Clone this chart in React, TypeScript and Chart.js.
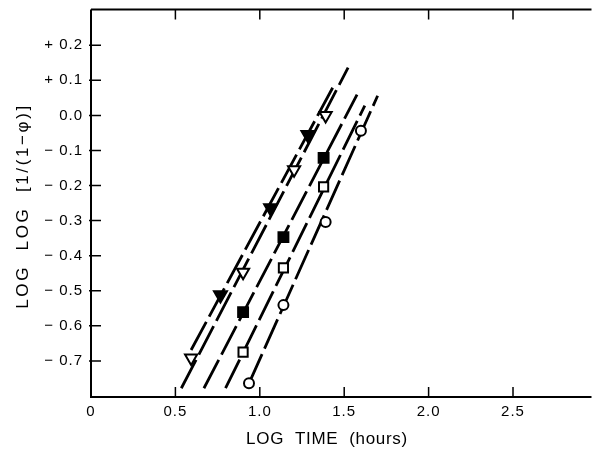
import React, { useEffect, useRef } from 'react';
import { Chart, registerables } from 'chart.js';

Chart.register(...registerables);

// ---- axis ticks ----
const xTickValues = [0, 0.5, 1.0, 1.5, 2.0, 2.5];
const xTickLabels = ['0', '0.5', '1.0', '1.5', '2.0', '2.5'];
const yTickValues = [-0.7, -0.6, -0.5, -0.4, -0.3, -0.2, -0.1, 0.0, 0.1, 0.2];
const yTickLabels = ['\u2212 0.7', '\u2212 0.6', '\u2212 0.5', '\u2212 0.4', '\u2212 0.3', '\u2212 0.2', '\u2212 0.1', '0.0', '+ 0.1', '+ 0.2'];

// ---- data points ----
const openTriX = [0.593, 0.901, 1.203, 1.39];
const openTriY = [-0.692, -0.447, -0.155, 0.0];
const fillTriX = [0.767, 1.064, 1.285];
const fillTriY = [-0.512, -0.264, -0.055];
const fillSqX = [0.901, 1.14, 1.378];
const fillSqY = [-0.561, -0.347, -0.121];
const openSqX = [0.901, 1.14, 1.378];
const openSqY = [-0.675, -0.435, -0.204];
const circX = [0.936, 1.14, 1.39, 1.599];
const circY = [-0.764, -0.541, -0.304, -0.044];

// ---- fitted lines (end points) ----
const lineOpenTriX = [0.535, 1.523];
const lineOpenTriY = [-0.778, 0.136];
const lineFillTriX = [0.593, 1.442];
const lineFillTriY = [-0.669, 0.088];
const lineFillSqX = [0.669, 1.576];
const lineFillSqY = [-0.778, 0.059];
const lineOpenSqX = [0.797, 1.622];
const lineOpenSqY = [-0.778, 0.028];
const lineCircX = [0.936, 1.698];
const lineCircY = [-0.764, 0.056];

const FONT = "'Liberation Sans', Arial, sans-serif";

const zip = (xs: number[], ys: number[]) => xs.map((x, i) => ({ x, y: ys[i] }));

const axesPlugin = {
  id: 'axesPlugin',
  beforeDraw(chart: any) {
    (chart.ctx as any).letterSpacing = '1px';
  },
  beforeDatasetsDraw(chart: any) {
    const { ctx, chartArea } = chart;
    const xs = chart.scales.x;
    const ys = chart.scales.y;
    const { left, right, top, bottom } = chartArea;
    ctx.save();
    ctx.strokeStyle = '#000';
    ctx.lineWidth = 2;
    ctx.beginPath();
    ctx.moveTo(left, top);
    ctx.lineTo(left, bottom);
    ctx.lineTo(right, bottom);
    ctx.moveTo(left, top);
    ctx.lineTo(right, top);
    ctx.stroke();
    ctx.lineWidth = 1.5;
    ctx.beginPath();
    const tl = 10;
    xTickValues.forEach((v) => {
      if (v === 0) return;
      const px = xs.getPixelForValue(v);
      ctx.moveTo(px, bottom);
      ctx.lineTo(px, bottom - tl);
      ctx.moveTo(px, top);
      ctx.lineTo(px, top + tl);
    });
    yTickValues.forEach((v) => {
      const py = ys.getPixelForValue(v);
      ctx.moveTo(left - 2, py);
      ctx.lineTo(left + tl, py);
    });
    ctx.stroke();
    ctx.restore();
  },
  afterDraw(chart: any) {
    const { ctx } = chart;
    ctx.save();
    ctx.fillStyle = '#000';
    ctx.font = `17px ${FONT}`;
    (ctx as any).letterSpacing = '0.7px';
    ctx.textAlign = 'center';
    ctx.textBaseline = 'middle';
    ctx.fillText('LOG  TIME  (hours)', 327, 439);
    ctx.translate(23, 206);
    ctx.rotate(-Math.PI / 2);
    (ctx as any).letterSpacing = '2.6px';
    ctx.fillText('LOG  LOG  [1/(1\u2212\u03c6)]', 0, 0);
    ctx.restore();
  },
};

export default function App() {
  const ref = useRef<HTMLCanvasElement>(null);
  useEffect(() => {
    if (!ref.current) return;
    const markerBase = {
      type: 'scatter' as const,
      borderColor: '#000',
      borderWidth: 2,
      showLine: false,
      order: 0,
    };
    const lineBase = {
      type: 'line' as const,
      borderColor: '#000',
      borderWidth: 2.8,
      borderDash: [32, 6],
      pointRadius: 0,
      fill: false,
      tension: 0,
      order: 1,
    };
    const chart = new Chart(ref.current, {
      type: 'scatter',
      data: {
        datasets: [
          { ...lineBase, data: zip(lineOpenTriX, lineOpenTriY) },
          { ...lineBase, data: zip(lineFillTriX, lineFillTriY) },
          { ...lineBase, data: zip(lineFillSqX, lineFillSqY) },
          { ...lineBase, data: zip(lineOpenSqX, lineOpenSqY) },
          { ...lineBase, data: zip(lineCircX, lineCircY) },
          { ...markerBase, data: zip(openTriX, openTriY), pointStyle: 'triangle', pointRotation: 180, pointRadius: 7, backgroundColor: '#fff' },
          { ...markerBase, data: zip(fillTriX, fillTriY), pointStyle: 'triangle', pointRotation: 180, pointRadius: 7.5, backgroundColor: '#000' },
          { ...markerBase, data: zip(fillSqX, fillSqY), pointStyle: 'rect', pointRadius: 7, backgroundColor: '#000' },
          { ...markerBase, data: zip(openSqX, openSqY), pointStyle: 'rect', pointRadius: 6.5, backgroundColor: '#fff' },
          { ...markerBase, data: zip(circX, circY), pointStyle: 'circle', pointRadius: 5, backgroundColor: '#fff' },
        ] as any,
      },
      options: {
        animation: false,
        responsive: false,
        maintainAspectRatio: false,
        layout: { padding: { top: 4, left: 0, right: 0, bottom: 0 } },
        plugins: { legend: { display: false }, tooltip: { enabled: false }, title: { display: false } },
        scales: {
          x: {
            type: 'linear',
            min: 0,
            max: 2.965,
            grid: { display: false },
            border: { display: false },
            afterBuildTicks: (s: any) => { s.ticks = xTickValues.map((v) => ({ value: v })); },
            afterFit: (s: any) => { s.height = 53; },
            ticks: {
              color: '#000',
              font: { family: FONT, size: 15 },
              padding: -2,
              maxRotation: 0,
              callback: (v: any) => { const i = xTickValues.findIndex((t) => Math.abs(t - v) < 1e-6); return i >= 0 ? xTickLabels[i] : ''; },
            },
          },
          y: {
            type: 'linear',
            min: -0.803,
            max: 0.302,
            grid: { display: false },
            border: { display: false },
            afterBuildTicks: (s: any) => { s.ticks = yTickValues.map((v) => ({ value: v })); },
            afterFit: (s: any) => { s.width = 91; },
            ticks: {
              color: '#000',
              font: { family: FONT, size: 15 },
              padding: 0,
              callback: (v: any) => { const i = yTickValues.findIndex((t) => Math.abs(t - v) < 1e-6); return i >= 0 ? yTickLabels[i] : ''; },
            },
          },
        },
      },
      plugins: [axesPlugin],
    });
    return () => chart.destroy();
  }, []);
  return (
    <div style={{ position: 'fixed', left: 0, top: 0, width: 601, height: 450, background: '#fff' }}>
      <canvas ref={ref} width={601} height={450} style={{ width: 601, height: 450 }} />
    </div>
  );
}
